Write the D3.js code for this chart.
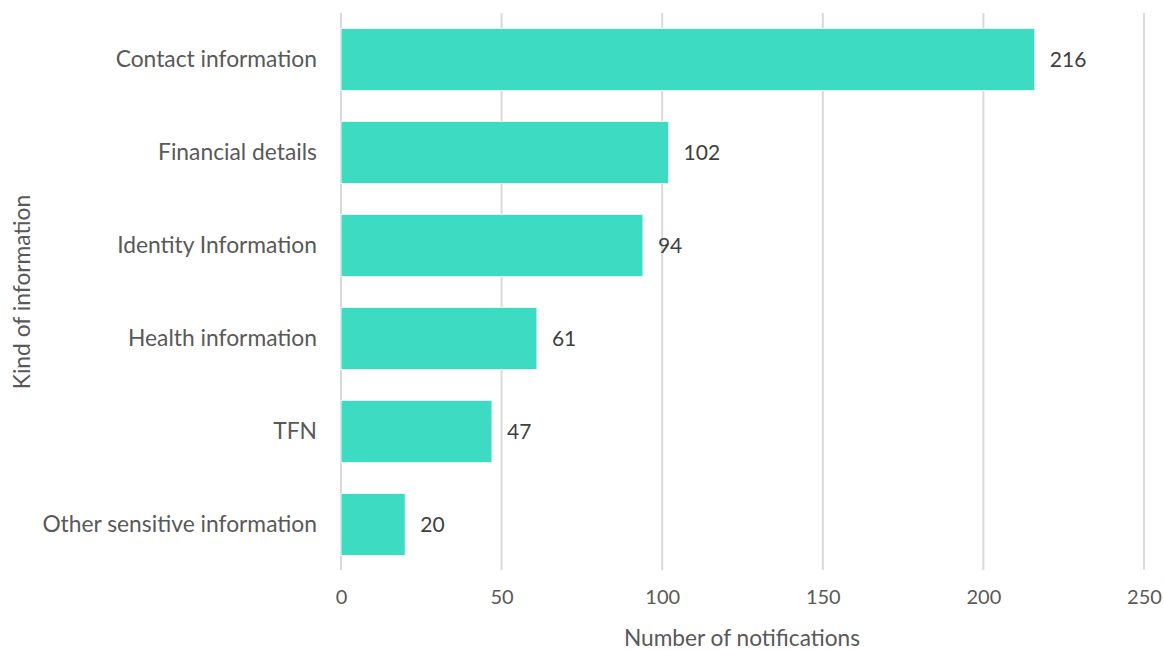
<!DOCTYPE html>
<html><head><meta charset="utf-8">
<script src="https://cdn.jsdelivr.net/npm/d3@7"></script>
<style>body{margin:0;background:#fff;} text{font-family:"Lato","Open Sans",sans-serif;}</style>
</head><body><svg id="c" width="1164" height="650"></svg>
<script>
const categories = ["Contact information","Financial details","Identity Information","Health information","TFN","Other sensitive information"];
const values = [216,102,94,61,47,20];
const xTicks = [0,50,100,150,200,250];

const svg = d3.select("#c");
const x = d3.scaleLinear().domain([0,250]).range([341,1144]);
const y = d3.scaleBand().domain(categories).range([13,571]).paddingInner(1/3).paddingOuter(1/6);

const grid = svg.append("g");
grid.selectAll("line").data(xTicks).join("line")
  .attr("x1",d=>x(d)).attr("x2",d=>x(d)).attr("y1",13).attr("y2",570)
  .attr("stroke","#d9d9d9").attr("stroke-width",2);

svg.append("g").selectAll("rect").data(values).join("rect")
  .attr("x",x(0)).attr("y",(d,i)=>y(categories[i]))
  .attr("width",d=>x(d)-x(0)).attr("height",y.bandwidth())
  .attr("fill","#3ddbc2").attr("stroke","#e6faf6").attr("stroke-width",1);

svg.append("g").selectAll("text").data(values).join("text")
  .attr("x",d=>x(d)+15).attr("y",(d,i)=>y(categories[i])+y.bandwidth()/2)
  .attr("dy","0.35em").attr("font-size",21).attr("fill","#404040").text(d=>d);

const yAxis = svg.append("g").attr("transform","translate(317,0)")
  .call(d3.axisLeft(y).tickSize(0).tickPadding(0));
yAxis.select(".domain").remove();
yAxis.selectAll("text").attr("font-size",22.8).attr("fill","#595959").attr("font-family","Lato");

const xAxis = svg.append("g").attr("transform","translate(0,590)")
  .call(d3.axisBottom(x).tickValues(xTicks).tickSize(0).tickPadding(0));
xAxis.select(".domain").remove();
xAxis.selectAll("text").attr("font-size",20).attr("fill","#595959").attr("font-family","Lato").attr("dy","0.71em");

svg.append("text").attr("x",742).attr("y",638).attr("dy","0.35em").attr("text-anchor","middle")
  .attr("font-size",22.7).attr("fill","#595959").text("Number of notifications");
svg.append("text").attr("transform","translate(22,292) rotate(-90)").attr("dy","0.35em").attr("text-anchor","middle")
  .attr("font-size",22.8).attr("fill","#595959").text("Kind of information");
</script></body></html>
